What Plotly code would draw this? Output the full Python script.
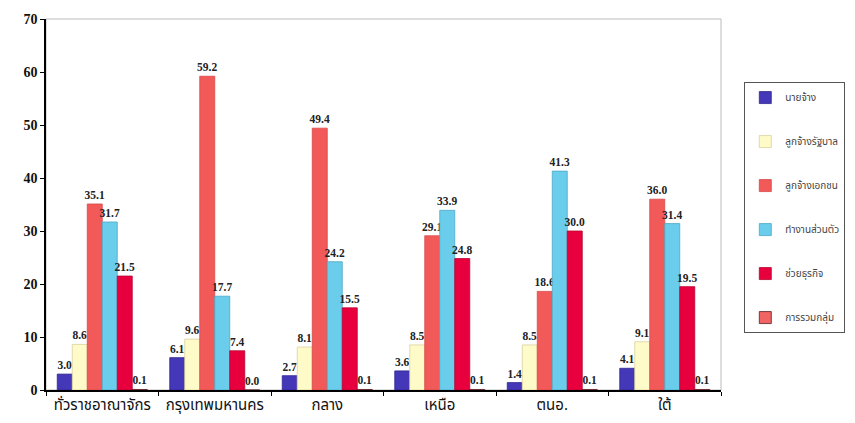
import plotly.graph_objects as go

categories = ["ทั่วราชอาณาจักร", "กรุงเทพมหานคร", "กลาง", "เหนือ", "ตนอ.", "ใต้"]
series_names = ["นายจ้าง", "ลูกจ้างรัฐบาล", "ลูกจ้างเอกชน", "ทำงานส่วนตัว", "ช่วยธุรกิจ", "การรวมกลุ่ม"]
employer = [3.0, 6.1, 2.7, 3.6, 1.4, 4.1]
gov_employee = [8.6, 9.6, 8.1, 8.5, 8.5, 9.1]
private_employee = [35.1, 59.2, 49.4, 29.1, 18.6, 36.0]
self_employed = [31.7, 17.7, 24.2, 33.9, 41.3, 31.4]
family_business = [21.5, 7.4, 15.5, 24.8, 30.0, 19.5]
group_work = [0.1, 0.0, 0.1, 0.1, 0.1, 0.1]
y_ticks = [0, 10, 20, 30, 40, 50, 60, 70]

series_values = [employer, gov_employee, private_employee, self_employed, family_business, group_work]
fills = ["#4438B8", "#FFFBC8", "#F25A5A", "#6ACDEB", "#E8003E", "#F06464"]
lines = ["#2E2690", "#D8D0A0", "#D84848", "#4AA8C8", "#B80030", "#5A2020"]

num_font = dict(family="Liberation Serif, Times New Roman, serif", size=11.5, color="#222222")
thai_font = "Noto Sans Thai, Loma, Garuda, Tlwg Typo, Norasi, DejaVu Sans, sans-serif"

fig = go.Figure()
for name, vals, fc, lc in zip(series_names, series_values, fills, lines):
    fig.add_trace(go.Bar(
        x=categories, y=vals, name=name, legendgroup=name,
        marker=dict(color=fc, line=dict(color=lc, width=0.8)),
        text=[f"<b>{v:.1f}</b>" for v in vals], textposition="outside",
        textfont=num_font, cliponaxis=False, constraintext="none",
    ))

# the page body adds an 8px offset, so the figure is 8px smaller than the window
fig.update_layout(
    width=847, height=415,
    margin=dict(l=38, r=133, t=11, b=33),
    paper_bgcolor="#FFFFFF", plot_bgcolor="#FFFFFF",
    barmode="group", bargap=0.2, bargroupgap=0,
    showlegend=True,
    legend=dict(
        x=1.033, y=0.83, xanchor="left", yanchor="top",
        bordercolor="#555555", borderwidth=1, bgcolor="#FFFFFF",
        font=dict(family=thai_font, size=10, color="#444444"),
        tracegroupgap=25, itemwidth=30,
    ),
)
fig.update_yaxes(
    range=[0, 70], tickvals=y_ticks, ticktext=[f"<b>{v}</b>" for v in y_ticks],
    showgrid=False, automargin=False,
    showline=True, linecolor="#000000", linewidth=1.5,
    ticks="outside", ticklen=4, tickcolor="#000000",
    tickfont=dict(family="Liberation Serif, serif", size=14, color="#111111"),
    zeroline=False,
)
fig.update_xaxes(
    showline=True, linecolor="#000000", linewidth=1.5, automargin=False,
    ticks="outside", tickson="boundaries", ticklen=4, tickcolor="#000000",
    tickfont=dict(family=thai_font, size=15, color="#111111"),
)
fig.add_shape(type="rect", xref="paper", yref="paper", x0=0, y0=0, x1=1, y1=1,
              line=dict(color="#BBBBBB", width=1), layer="below")

fig.write_html("out.html")
